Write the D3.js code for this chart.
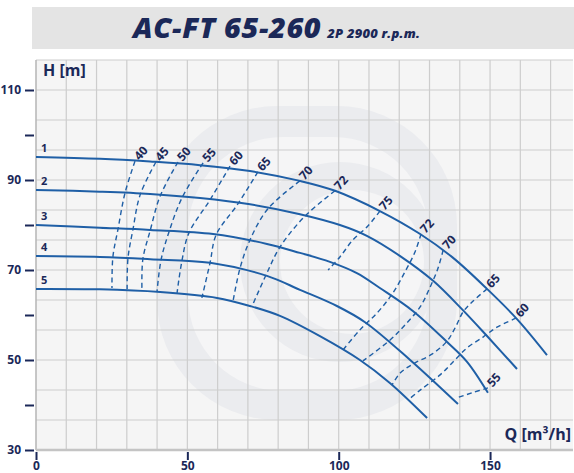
<!DOCTYPE html>
<html><head><meta charset="utf-8">
<script src="https://cdn.jsdelivr.net/npm/d3@7"></script>
<style>
body{margin:0;background:#fff;}
svg{display:block;font-family:'Open Sans',sans-serif;}
</style>
</head><body>
<svg id="c" width="574" height="473"></svg>
<script>
// ---------- data ----------
const title = "AC-FT 65-260";
const subtitle = "2P 2900 r.p.m.";
const xLabel = "Q [m³/h]";
const yLabel = "H [m]";
const xTicks = [0, 50, 100, 150];
const yTicks = [30, 40, 50, 60, 70, 80, 90, 100, 110];
const yTickLabels = [30, 50, 70, 90, 110];

const curveNames = ["1", "2", "3", "4", "5"];
const curve1 = [[0,95.1],[21.1,94.7],[37.7,94.1],[54.2,93.3],[70.7,92.0],[87.2,89.8],[98.8,87.6],[113.6,83.1],[126.9,78.0],[137.8,72.7],[149.0,65.8],[158.9,59.1],[168.8,51.1]];
const curve2 = [[0,87.8],[21.1,87.4],[37.7,86.9],[54.2,86.0],[70.7,84.6],[87.2,82.4],[100.4,80.0],[109.3,77.6],[120.3,73.1],[131.2,67.6],[140.7,61.3],[149.3,55.1],[158.9,48.0]];
const curve3 = [[0,80.0],[21.1,79.4],[37.7,78.9],[58.5,78.0],[76.3,75.8],[87.2,73.8],[97.1,71.8],[106.0,69.3],[113.6,66.0],[124.5,60.9],[135.8,54.0],[142.4,49.6],[149.3,42.7]];
const curve4 = [[0,73.1],[21.1,72.9],[37.7,72.4],[57.5,71.6],[76.3,68.7],[87.2,65.6],[99.4,62.0],[108.7,58.4],[123.6,50.0],[139.4,40.2]];
const curve5 = [[0,65.8],[21.1,65.7],[41.0,65.1],[59.8,63.8],[70.7,62.0],[80.6,59.8],[93.8,55.3],[107.0,50.0],[116.9,44.9],[129.2,37.1]];
const headCurves = [curve1, curve2, curve3, curve4, curve5];

const effNames = ["40","45","50","55","60","65","70","72","75","72","70","65","60","55"];
const eff40  = [[32.7,94.2],[29.4,87.1],[27.1,79.1],[25.4,72.9],[25.1,66.0]];
const eff45  = [[39.6,94.0],[34.4,86.7],[32.0,78.9],[30.4,72.7],[30.1,65.8]];
const eff50  = [[46.9,94.0],[41.0,86.4],[37.7,78.7],[35.3,72.4],[35.0,65.6]];
const eff55  = [[55.2,93.8],[48.2,86.0],[43.9,78.4],[41.3,72.2],[40.0,65.3]];
const eff60  = [[64.1,93.1],[57.5,85.6],[50.5,78.2],[48.2,72.0],[46.6,64.9]];
const eff65  = [[73.3,91.8],[66.7,84.7],[59.5,77.8],[57.5,71.6],[54.8,63.8]];
const eff70  = [[87.2,89.8],[76.6,83.6],[70.7,76.7],[67.4,70.4],[65.1,63.1]];
const eff72a = [[98.8,87.6],[88.9,82.0],[80.6,75.1],[76.0,68.9],[71.4,62.0]];
const eff75  = [[113.6,83.1],[109.4,79.6],[104.7,76.7],[100.4,72.9],[96.5,70.0]];
const eff72b = [[127.2,78.0],[125.2,74.0],[121.9,69.6],[117.9,64.9],[113.0,60.7],[107.0,56.7],[101.4,52.2]];
const eff70b = [[134.5,74.4],[132.8,70.4],[130.2,66.2],[126.9,61.8],[121.9,57.8],[116.9,54.4],[108.0,49.8]];
const eff65b = [[149.0,65.8],[144.4,63.1],[141.1,60.7],[138.8,57.6],[135.8,54.2],[130.8,51.3],[124.5,49.1],[120.3,47.1],[117.6,44.4]];
const eff60b = [[158.6,59.3],[152.3,57.3],[147.7,55.1],[142.4,52.7],[138.4,50.0],[133.5,46.7],[126.9,43.3],[122.9,41.1]];
const eff55b = [[149.3,43.8],[144.0,42.7],[139.1,41.6]];
const effLines = [eff40, eff45, eff50, eff55, eff60, eff65, eff70, eff72a, eff75, eff72b, eff70b, eff65b, eff60b, eff55b];

// ---------- style ----------
const NAVY = "#1b2858", BLUE = "#1f5fa6";
const svg = d3.select("#c");
const x = d3.scaleLinear().domain([0, 177.4]).range([36, 573]);
const y = d3.scaleLinear().domain([30, 30 + 13 * 20 / 3]).range([450, 60]);

// title bar
svg.append("rect").attr("x", 32).attr("y", 7).attr("width", 542).attr("height", 42).attr("fill", "#e4e4e4");
const t = svg.append("text").attr("x", 133).attr("y", 38)
  .attr("fill", NAVY).attr("font-style", "italic").attr("font-weight", 800);
t.append("tspan").attr("font-size", 29).attr("letter-spacing", 0.6).text(title);
t.append("tspan").attr("font-size", 13).attr("dx", 6).attr("letter-spacing", 0.2).text(subtitle);

// plot background
svg.append("rect").attr("x", x(0)).attr("y", y.range()[1]).attr("width", x.range()[1] - x(0))
  .attr("height", y.range()[0] - y.range()[1]).attr("fill", "#f5f5f5");

// watermark
const wm = svg.append("g");
wm.append("rect").attr("x", 157).attr("y", 106).attr("width", 300).attr("height", 314).attr("rx", 120).attr("fill", "#ebecef");
wm.append("rect").attr("x", 188).attr("y", 137).attr("width", 240).attr("height", 254).attr("rx", 95).attr("fill", "#f5f5f6");
wm.append("circle").attr("cx", 340).attr("cy", 262).attr("r", 100).attr("fill", "#ebecef");
wm.append("circle").attr("cx", 352).attr("cy", 262).attr("r", 72).attr("fill", "#f5f5f6");

// grid
const grid = svg.append("g").attr("stroke", "#cdcdcd").attr("stroke-width", 1.2);
grid.selectAll("line.v").data(d3.range(10, 178, 10)).join("line")
  .attr("x1", d => x(d)).attr("x2", d => x(d)).attr("y1", y.range()[1]).attr("y2", y.range()[0]);
grid.selectAll("line.h").data(d3.range(1, 14).map(i => 30 + i * 20 / 3)).join("line")
  .attr("x1", x(0)).attr("x2", x.range()[1]).attr("y1", d => y(d)).attr("y2", d => y(d));

// axis frame
svg.append("line").attr("x1", x(0)).attr("x2", x(0)).attr("y1", y.range()[1]).attr("y2", y.range()[0])
  .attr("stroke", "#b5b5b5").attr("stroke-width", 1.5);
svg.append("line").attr("x1", x(0)).attr("x2", x.range()[1]).attr("y1", y(30)).attr("y2", y(30))
  .attr("stroke", "#c4c4c4").attr("stroke-width", 2.5);

// curves
const line = d3.line().x(d => x(d[0])).y(d => y(d[1])).curve(d3.curveCatmullRom.alpha(0.5));
svg.append("g").selectAll("path").data(effLines).join("path")
  .attr("d", line).attr("fill", "none").attr("stroke", BLUE).attr("stroke-width", 1.4)
  .attr("stroke-dasharray", "5,3.5");
svg.append("g").selectAll("path").data(headCurves).join("path")
  .attr("d", line).attr("fill", "none").attr("stroke", BLUE).attr("stroke-width", 2);

// curve numbers
svg.append("g").selectAll("text").data(headCurves).join("text")
  .attr("x", d => x(d[0][0]) + 5).attr("y", d => y(d[0][1]) - 5)
  .attr("fill", NAVY).attr("font-size", 11).attr("font-weight", 700)
  .text((d, i) => curveNames[i]);

// efficiency labels
svg.append("g").selectAll("text").data(effLines).join("text")
  .attr("transform", d => `translate(${x(d[0][0]) + 6},${y(d[0][1]) - 8}) rotate(-48)`)
  .attr("text-anchor", "middle").attr("dy", "0.35em")
  .attr("fill", NAVY).attr("font-size", 12).attr("font-weight", 700)
  .text((d, i) => effNames[i]);

// axes
const ya = svg.append("g").attr("transform", "translate(34,0)")
  .call(d3.axisLeft(y).tickValues(yTicks).tickSize(9).tickPadding(4)
    .tickFormat(d => yTickLabels.includes(d) ? d : ""));
const xa = svg.append("g").attr("transform", `translate(0,${y(30) + 2})`)
  .call(d3.axisBottom(x).tickValues(xTicks).tickSize(8).tickPadding(1));
[ya, xa].forEach(a => {
  a.select(".domain").remove();
  a.selectAll("line").attr("stroke", NAVY).attr("stroke-width", 2);
  a.selectAll("text").attr("fill", NAVY).attr("font-size", 12).attr("font-weight", 700)
    .attr("font-family", "'Open Sans',sans-serif");
});

// axis titles
svg.append("text").attr("x", 43).attr("y", 76).attr("fill", NAVY).attr("font-size", 16).attr("font-weight", 700).text(yLabel);
svg.append("text").attr("x", 571).attr("y", 440).attr("text-anchor", "end").attr("fill", NAVY)
  .attr("font-size", 16).attr("font-weight", 700).text(xLabel);
</script>
</body></html>
